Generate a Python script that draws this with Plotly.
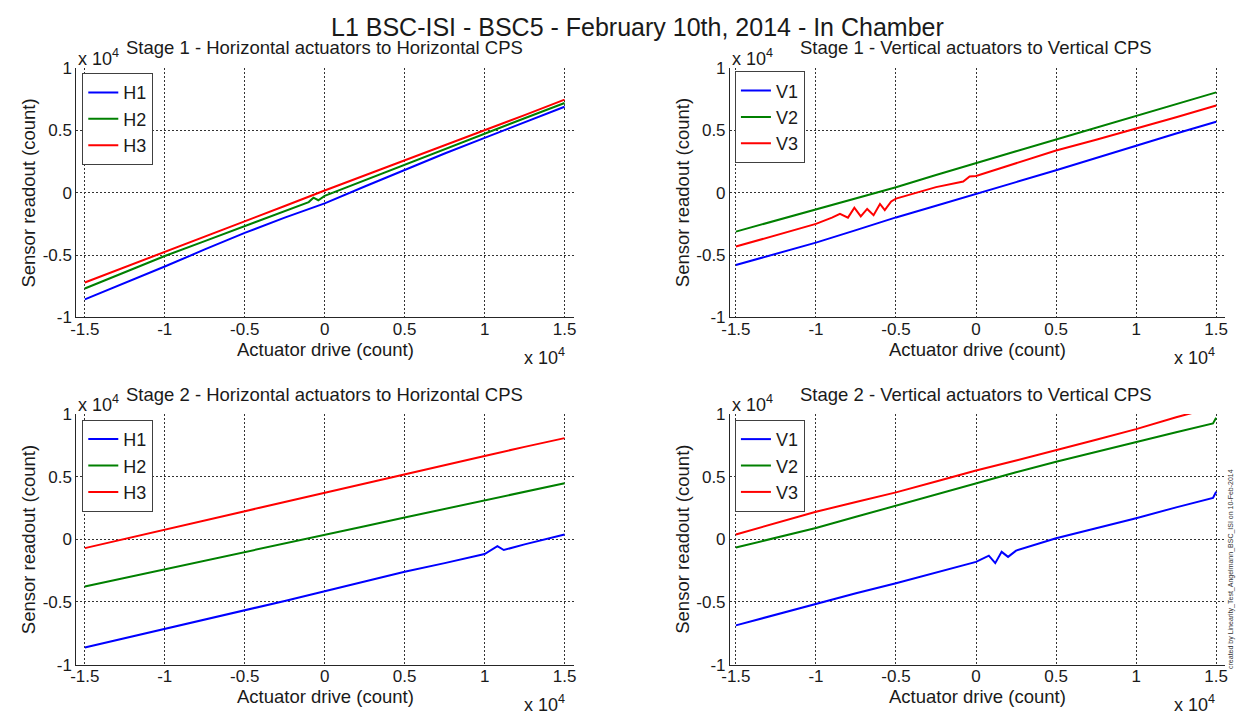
import plotly.graph_objects as go

# ---------------- data (x and y in units of 1e4 counts) ----------------
X_BASE = [-1.5, -1.25, -1, -0.75, -0.5, -0.25, 0, 0.25, 0.5, 0.75, 1, 1.25, 1.5]

# Stage 1 horizontal
S1_H1_X = X_BASE
S1_H1 = [-0.855, -0.725, -0.592, -0.455, -0.322, -0.200, -0.085, 0.050, 0.185, 0.315, 0.440, 0.565, 0.690]
S1_H2_X = [-1.5, -1.25, -1, -0.75, -0.5, -0.25, -0.1, -0.07, -0.04, 0, 0.25, 0.5, 0.75, 1, 1.25, 1.5]
S1_H2 = [-0.768, -0.640, -0.508, -0.388, -0.268, -0.145, -0.075, -0.040, -0.060, -0.025, 0.100, 0.227, 0.350, 0.474, 0.598, 0.720]
S1_H3_X = X_BASE
S1_H3 = [-0.720, -0.598, -0.477, -0.352, -0.230, -0.106, 0.018, 0.138, 0.258, 0.380, 0.500, 0.623, 0.747]

# Stage 1 vertical
S1_V1_X = X_BASE
S1_V1 = [-0.580, -0.490, -0.400, -0.300, -0.198, -0.105, -0.013, 0.085, 0.180, 0.280, 0.378, 0.475, 0.570]
S1_V2_X = X_BASE
S1_V2 = [-0.312, -0.222, -0.130, -0.045, 0.044, 0.142, 0.240, 0.333, 0.427, 0.522, 0.617, 0.710, 0.805]
S1_V3_X = [-1.5, -1.25, -1, -0.9, -0.85, -0.8, -0.76, -0.72, -0.68, -0.64, -0.6, -0.57, -0.53, -0.5,
           -0.25, -0.08, -0.04, 0, 0.25, 0.5, 0.75, 1, 1.25, 1.5]
S1_V3 = [-0.432, -0.340, -0.250, -0.200, -0.170, -0.200, -0.120, -0.190, -0.130, -0.180, -0.090, -0.140, -0.070, -0.047,
         0.045, 0.090, 0.130, 0.135, 0.235, 0.339, 0.425, 0.513, 0.605, 0.700]

# Stage 2 horizontal
S2_H1_X = [-1.5, -1.25, -1, -0.75, -0.5, -0.25, 0, 0.25, 0.5, 0.75, 1, 1.08, 1.12, 1.25, 1.5]
S2_H1 = [-0.863, -0.790, -0.712, -0.640, -0.570, -0.492, -0.414, -0.338, -0.259, -0.190, -0.117, -0.055, -0.085, -0.040, 0.039]
S2_H2_X = X_BASE
S2_H2 = [-0.376, -0.308, -0.241, -0.172, -0.104, -0.035, 0.034, 0.104, 0.174, 0.243, 0.311, 0.380, 0.448]
S2_H3_X = X_BASE
S2_H3 = [-0.070, 0.004, 0.078, 0.153, 0.228, 0.298, 0.370, 0.444, 0.518, 0.592, 0.666, 0.738, 0.808]

# Stage 2 vertical
S2_V1_X = [-1.5, -1.25, -1, -0.75, -0.5, -0.25, 0, 0.08, 0.12, 0.16, 0.2, 0.25, 0.5, 0.75, 1, 1.25, 1.48, 1.5]
S2_V1 = [-0.687, -0.600, -0.518, -0.430, -0.350, -0.265, -0.180, -0.130, -0.190, -0.100, -0.140, -0.090,
         0.008, 0.088, 0.168, 0.255, 0.330, 0.380]
S2_V2_X = [-1.5, -1.25, -1, -0.75, -0.5, -0.25, 0, 0.25, 0.5, 0.75, 1, 1.25, 1.48, 1.5]
S2_V2 = [-0.065, 0.012, 0.090, 0.180, 0.270, 0.360, 0.448, 0.535, 0.620, 0.700, 0.780, 0.855, 0.925, 0.970]
S2_V3_X = X_BASE
S2_V3 = [0.039, 0.130, 0.220, 0.298, 0.375, 0.462, 0.550, 0.630, 0.710, 0.795, 0.880, 0.975, 1.060]

X_TICKS = [-1.5, -1, -0.5, 0, 0.5, 1, 1.5]
X_TICKTEXT = ["-1.5", "-1", "-0.5", "0", "0.5", "1", "1.5"]
Y_TICKS = [-1, -0.5, 0, 0.5, 1]
Y_TICKTEXT = ["-1", "-0.5", "0", "0.5", "1"]

TITLE = "L1 BSC-ISI - BSC5 - February 10th, 2014 - In Chamber"
PANEL_TITLES = ["Stage 1 - Horizontal actuators to Horizontal CPS",
                "Stage 1 - Vertical actuators to Vertical CPS",
                "Stage 2 - Horizontal actuators to Horizontal CPS",
                "Stage 2 - Vertical actuators to Vertical CPS"]
XLABEL = "Actuator drive (count)"
YLABEL = "Sensor readout (count)"
WATERMARK = "created by Linearity_Test_Angelmann_BSC_ISI on 10-Feb-2014"

# ---------------- styling ----------------
W, H = 1243, 723
FONT = "Liberation Sans, Arial, Helvetica, sans-serif"
BLUE, GREEN, RED = "#0000ff", "#008000", "#ff0000"

def px_x(p):
    return p / W

def px_y(p):
    return 1 - p / H

fig = go.Figure()

panels = [
    ("", "legend", [("H1", S1_H1_X, S1_H1, BLUE), ("H2", S1_H2_X, S1_H2, GREEN), ("H3", S1_H3_X, S1_H3, RED)]),
    ("2", "legend2", [("V1", S1_V1_X, S1_V1, BLUE), ("V2", S1_V2_X, S1_V2, GREEN), ("V3", S1_V3_X, S1_V3, RED)]),
    ("3", "legend3", [("H1", S2_H1_X, S2_H1, BLUE), ("H2", S2_H2_X, S2_H2, GREEN), ("H3", S2_H3_X, S2_H3, RED)]),
    ("4", "legend4", [("V1", S2_V1_X, S2_V1, BLUE), ("V2", S2_V2_X, S2_V2, GREEN), ("V3", S2_V3_X, S2_V3, RED)]),
]

for suf, leg, series in panels:
    for name, xs, ys, col in series:
        fig.add_trace(go.Scatter(x=xs, y=ys, mode="lines", name=name,
                                 line=dict(color=col, width=2),
                                 xaxis="x" + suf, yaxis="y" + suf, legend=leg))

geos = [(68, 571, 60.7, 316.7), (728, 1228, 60.7, 316.7),
        (68, 571, 416, 673.3), (728, 1228, 416, 673.3)]
xranges = [[-1.553, 1.562], [-1.537, 1.556], [-1.553, 1.562], [-1.537, 1.556]]

axis_common = dict(showgrid=True, gridcolor="#333333", griddash="2px,2px", gridwidth=1,
                   zeroline=False, showline=True, linecolor="#262626", linewidth=1,
                   ticks="", mirror=False,
                   tickfont=dict(family=FONT, size=17, color="#1a1a1a"))

layout = dict(width=W, height=H, margin=dict(l=0, r=0, t=0, b=0),
              paper_bgcolor="white", plot_bgcolor="white",
              font=dict(family=FONT, color="#1a1a1a"))

for i, (suf, leg, _) in enumerate(panels):
    l, r, t, b = geos[i]
    layout["xaxis" + suf] = dict(axis_common, domain=[px_x(l), px_x(r)], range=xranges[i],
                                 tickvals=X_TICKS, ticktext=X_TICKTEXT, anchor="y" + suf,
                                 ticklabelstandoff=-4)
    layout["yaxis" + suf] = dict(axis_common, domain=[px_y(b), px_y(t)], range=[-1, 1],
                                 tickvals=Y_TICKS, ticktext=Y_TICKTEXT, anchor="x" + suf)

legend_pos = [(74, 66), (733, 64), (74, 422), (733, 422)]
for i, (suf, leg, _) in enumerate(panels):
    lx, ly = legend_pos[i]
    layout[leg] = dict(x=px_x(lx), y=px_y(ly), xanchor="left", yanchor="top",
                       bgcolor="white", bordercolor="#404040", borderwidth=1,
                       font=dict(family=FONT, size=18, color="#1a1a1a"),
                       itemwidth=30, tracegroupgap=0)

fig.update_layout(**layout)

ann = []
def add_text(text, x, y, size, xanchor="center", yanchor="middle", angle=0, color="#1a1a1a"):
    ann.append(dict(text=text, x=px_x(x), y=px_y(y), xref="paper", yref="paper",
                    showarrow=False, xanchor=xanchor, yanchor=yanchor, textangle=angle,
                    font=dict(family=FONT, size=size, color=color)))

add_text(TITLE, 635, 18, 25)
title_pos = [(319, 40), (976, 40), (319, 396), (976, 396)]
for t, (x, y) in zip(PANEL_TITLES, title_pos):
    add_text(t, x, y, 18.5)

for i, g in enumerate(geos):
    l, r, t, b = g
    cx = (l + r) / 2
    add_text(XLABEL, cx, b + 33, 18.5)
    add_text("x 10<sup>4</sup>", r - 8, b + 40, 18, xanchor="right")
    add_text("x 10<sup>4</sup>", l, t - 11, 18, xanchor="left")
    add_text(YLABEL, l - 48, (t + b) / 2, 18.5, angle=-90)

add_text(WATERMARK, 1234, 575, 7, angle=-90, color="#333333")

fig.update_layout(annotations=ann)
fig.write_html("out.html")
